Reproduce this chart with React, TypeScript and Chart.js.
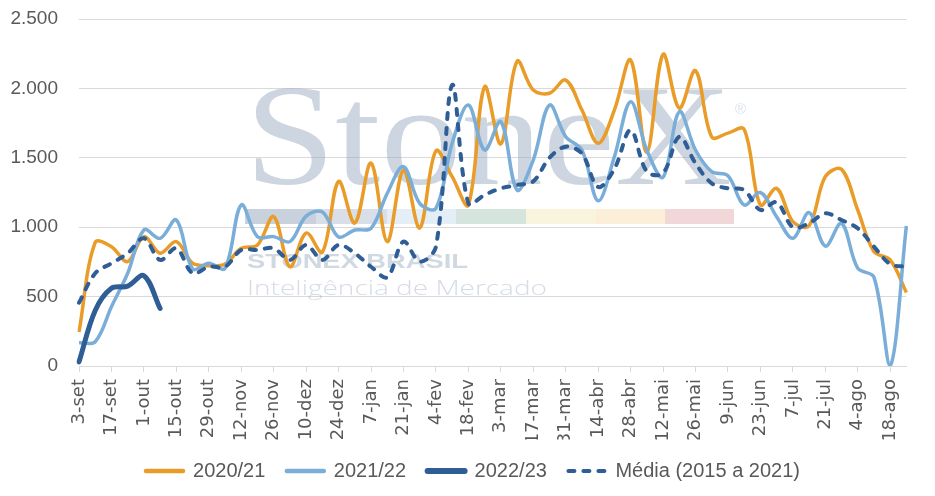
import React, { useEffect, useRef } from "react";
import { Chart, registerables } from "chart.js";

Chart.register(...registerables);

const categories = [
  "3-set", "10-set", "17-set", "24-set", "1-out", "8-out", "15-out", "22-out", "29-out",
  "5-nov", "12-nov", "19-nov", "26-nov", "3-dez", "10-dez", "17-dez", "24-dez", "31-dez",
  "7-jan", "14-jan", "21-jan", "28-jan", "4-fev", "11-fev", "18-fev", "25-fev",
  "3-mar", "10-mar", "17-mar", "24-mar", "31-mar", "7-abr", "14-abr", "21-abr", "28-abr",
  "5-mai", "12-mai", "19-mai", "26-mai", "2-jun", "9-jun", "16-jun", "23-jun", "30-jun",
  "7-jul", "14-jul", "21-jul", "28-jul", "4-ago", "11-ago", "18-ago", "25-ago",
];

const serie2020_21 = [
  245, 890, 860, 752, 932, 813, 896, 741, 723, 735, 848, 872, 1076, 715, 958, 820,
  1330, 1030, 1462, 896, 1412, 994, 1550, 1364, 1160, 2012, 1600, 2195, 1988, 1965,
  2060, 1844, 1604, 1844, 2205, 1540, 2245, 1858, 2128, 1650, 1678, 1705, 1160, 1280,
  1040, 1010, 1364, 1417, 1124, 824, 764, 530,
];

const serie2021_22 = [
  168, 175, 427, 668, 980, 920, 1052, 700, 740, 704, 1160, 932, 932, 896, 1080, 1110,
  930, 980, 992, 1244, 1436, 1172, 1136, 1604, 1880, 1556, 1760, 1268, 1484, 1880,
  1652, 1556, 1190, 1508, 1904, 1556, 1360, 1832, 1556, 1400, 1370, 1160, 1250, 1076,
  920, 1105, 864, 1028, 705, 640, 0, 1009,
];

const serie2022_23 = [30, 400, 560, 575, 650, 415];

const serieMedia = [
  456, 668, 740, 812, 920, 764, 848, 668, 715, 715, 836, 836, 848, 764, 872, 764,
  872, 812, 715, 640, 896, 752, 860, 2024, 1172, 1232, 1280, 1304, 1330, 1500,
  1580, 1530, 1290, 1420, 1700, 1400, 1390, 1652, 1460, 1316, 1280, 1268, 1124, 1180,
  1000, 1028, 1100, 1052, 992, 860, 735, 715,
];

const seriesNames = ["2020/21", "2021/22", "2022/23", "Média (2015 a 2021)"];
const yTickValues = [0, 500, 1000, 1500, 2000, 2500];

const fmtThousands = (v: number) =>
  String(v).replace(/\B(?=(\d{3})+(?!\d))/g, ".");

const watermarkPlugin = {
  id: "stonexWatermark",
  afterLayout(chart: any) {
    // shift the legend box so its items start where the reference's do
    if (chart.legend) chart.legend.left = 28;
  },
  beforeDatasetsDraw(chart: any) {
    const ctx: CanvasRenderingContext2D = chart.ctx;
    const fitText = (
      text: string,
      font: string,
      color: string,
      x: number,
      baseline: number,
      width: number
    ) => {
      ctx.save();
      ctx.font = font;
      ctx.textBaseline = "alphabetic";
      ctx.textAlign = "left";
      const w = ctx.measureText(text).width;
      ctx.translate(x, baseline);
      ctx.scale(width / w, 1);
      ctx.fillStyle = color;
      ctx.fillText(text, 0, 0);
      ctx.restore();
    };
    fitText("StoneX", '143px "Liberation Serif"', "rgba(150,168,190,0.48)", 245, 184, 487);
    ctx.save();
    ctx.font = '15px "Liberation Sans"';
    ctx.fillStyle = "rgba(150,168,190,0.35)";
    ctx.fillText("®", 735, 110);
    ctx.restore();

    const stripEdges = [245, 316, 387, 456, 526, 596, 665, 734];
    const stripColors = ["#c9d2dc", "#d9dfe9", "#e4eef6", "#d5e4dc", "#f8f4dd", "#fcefd9", "#f1d7d8"];
    ctx.save();
    for (let i = 0; i < stripColors.length; i++) {
      ctx.fillStyle = stripColors[i];
      ctx.fillRect(stripEdges[i], 209, stripEdges[i + 1] - stripEdges[i], 15);
    }
    ctx.restore();

    fitText("STONEX BRASIL", 'bold 20px "Liberation Sans"', "rgba(150,168,190,0.45)", 247, 268, 221);
    fitText("Inteligência de Mercado", '300 21px "Open Sans"', "rgba(150,168,190,0.4)", 247, 295, 300);
  },
};

const legendLineWidths = [4.5, 4.5, 6, 4];

export default function App() {
  const canvasRef = useRef<HTMLCanvasElement>(null);

  useEffect(() => {
    if (!canvasRef.current) return;
    Chart.defaults.font.family = '"Liberation Sans", Arial, sans-serif';
    const chart = new Chart(canvasRef.current, {
      type: "line",
      data: {
        labels: categories,
        datasets: [
          {
            label: seriesNames[0],
            data: serie2020_21,
            borderColor: "#E99C28",
            backgroundColor: "#E99C28",
            borderWidth: 3.5,
            pointRadius: 0,
            tension: 0.35,
            fill: false,
            order: 4,
          },
          {
            label: seriesNames[1],
            data: serie2021_22,
            borderColor: "#7AAED8",
            backgroundColor: "#7AAED8",
            borderWidth: 3.5,
            pointRadius: 0,
            tension: 0.35,
            fill: false,
            order: 3,
          },
          {
            label: seriesNames[2],
            data: serie2022_23,
            borderColor: "#2F5D95",
            backgroundColor: "#2F5D95",
            borderWidth: 5,
            borderCapStyle: "round",
            pointRadius: 0,
            tension: 0.35,
            fill: false,
            order: 2,
          },
          {
            label: seriesNames[3],
            data: serieMedia,
            borderColor: "#2F5D95",
            backgroundColor: "#2F5D95",
            borderWidth: 4,
            borderDash: [6, 9],
            borderCapStyle: "round",
            pointRadius: 0,
            tension: 0.35,
            fill: false,
            order: 1,
          },
        ],
      },
      options: {
        animation: false,
        responsive: true,
        maintainAspectRatio: false,
        layout: { padding: { left: 0, right: 17, top: 19, bottom: 5 } },
        plugins: {
          tooltip: { enabled: false },
          legend: {
            display: true,
            position: "bottom",
            labels: {
              usePointStyle: true,
              pointStyle: "line",
              pointStyleWidth: 37,
              padding: 21.5,
              color: "#595959",
              font: { family: '"Liberation Sans"', size: 20 },
              generateLabels: (c: any) =>
                c.data.datasets.map((ds: any, i: number) => ({
                  text: ds.label,
                  fillStyle: ds.borderColor,
                  strokeStyle: ds.borderColor,
                  lineWidth: legendLineWidths[i],
                  lineDash: ds.borderDash || [],
                  lineCap: "round",
                  pointStyle: "line",
                  hidden: false,
                  datasetIndex: i,
                  fontColor: "#595959",
                })),
            },
          },
        },
        scales: {
          x: {
            type: "category",
            offset: false,
            grid: {
              display: true,
              drawOnChartArea: false,
              drawTicks: true,
              tickLength: 6,
              color: (ctx: any) => (ctx.index % 2 === 0 ? "#d9d9d9" : "rgba(0,0,0,0)"),
            },
            border: { display: true, color: "#d9d9d9" },
            ticks: {
              autoSkip: false,
              maxRotation: 90,
              minRotation: 90,
              padding: 7,
              color: "#595959",
              font: { family: '"DejaVu Sans"', size: 18 },
              callback: (_v: any, idx: number) => (idx % 2 === 0 ? categories[idx] : ""),
            },
            afterFit: (scale: any) => {
              scale.height = 73.5;
            },
          },
          y: {
            min: 0,
            max: 2500,
            grid: {
              color: "#d9d9d9",
              lineWidth: 1,
              drawTicks: true,
              tickLength: 21,
              tickColor: "rgba(0,0,0,0)",
            },
            border: { display: false },
            ticks: {
              padding: 0,
              color: "#595959",
              font: { family: '"Liberation Sans"', size: 19 },
              callback: (v: any) => fmtThousands(Number(v)),
            },
            afterBuildTicks: (scale: any) => {
              scale.ticks = yTickValues.map((v) => ({ value: v }));
            },
            afterFit: (scale: any) => {
              scale.width = 79;
            },
          },
        },
      },
      plugins: [watermarkPlugin],
    } as any);
    return () => chart.destroy();
  }, []);

  return (
    <div
      style={{
        position: "fixed",
        left: 0,
        top: 0,
        width: 935,
        height: 496,
        background: "#ffffff",
      }}
    >
      <canvas ref={canvasRef} />
    </div>
  );
}
